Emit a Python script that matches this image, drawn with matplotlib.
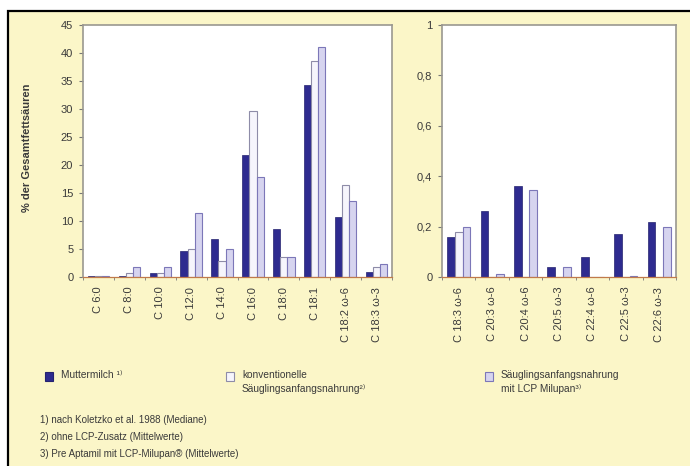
import matplotlib
matplotlib.use("Agg")
import matplotlib.pyplot as plt
from matplotlib.patches import Rectangle
import numpy as np

plt.rcParams['font.family'] = ['Liberation Sans', 'DejaVu Sans']

# ---- data ----
cats_left = ["C 6:0", "C 8:0", "C 10:0", "C 12:0", "C 14:0", "C 16:0",
             "C 18:0", "C 18:1", "C 18:2 ω-6", "C 18:3 ω-3"]
mutter_left = [0.1, 0.1, 0.8, 4.6, 6.7, 21.8, 8.6, 34.3, 10.8, 0.9]
konv_left = [0.2, 0.7, 0.8, 5.0, 2.9, 29.6, 3.5, 38.5, 16.4, 1.7]
lcp_left = [0.2, 1.8, 1.8, 11.4, 5.0, 17.9, 3.5, 41.0, 13.5, 2.3]

cats_right = ["C 18:3 ω-6", "C 20:3 ω-6", "C 20:4 ω-6", "C 20:5 ω-3",
              "C 22:4 ω-6", "C 22:5 ω-3", "C 22:6 ω-3"]
mutter_right = [0.16, 0.26, 0.36, 0.04, 0.08, 0.17, 0.22]
konv_right = [0.18, 0.0, 0.0, 0.0, 0.0, 0.0, 0.0]
lcp_right = [0.20, 0.012, 0.345, 0.04, 0.0, 0.005, 0.20]

yticks_left = [0, 5, 10, 15, 20, 25, 30, 35, 40, 45]
yticks_right = [0, 0.2, 0.4, 0.6, 0.8, 1.0]
yticklabels_right = ["0", "0,2", "0,4", "0,6", "0,8", "1"]

series_names = ["Muttermilch ¹⁾", "konventionelle\nSäuglingsanfangsnahrung²⁾",
                "Säuglingsanfangsnahrung\nmit LCP Milupan³⁾"]
footnotes = ["1) nach Koletzko et al. 1988 (Mediane)",
             "2) ohne LCP-Zusatz (Mittelwerte)",
             "3) Pre Aptamil mit LCP-Milupan® (Mittelwerte)"]

# ---- style ----
BG = "#fbf6c8"
C_MUT = "#2e2b8f"
C_KONV = "#f6f5fc"
E_KONV = "#8e8ca8"
C_LCP = "#d6d4ef"
E_LCP = "#7c77b8"
SPINE = "#9a9890"
BASE = "#c07a4a"
TXT = "#3a3a3a"

W, H = 690, 466
fig = plt.figure(figsize=(W / 100, H / 100), dpi=100)
fig.patch.set_facecolor("white")
fig.patches.append(Rectangle((8 / W, -0.02), 1.0, 1 - 11 / H + 0.02,
                             transform=fig.transFigure, facecolor=BG,
                             edgecolor="black", linewidth=1.6, zorder=-10))


def panel(rect, cats, m, k, l, ylim, yticks, yticklabels):
    ax = fig.add_axes(rect)
    ax.set_facecolor("white")
    x = np.arange(len(cats))
    w = 0.23
    ax.bar(x - w, m, w, color=C_MUT, edgecolor="#25236f", linewidth=0.5)
    ax.bar(x, k, w, color=C_KONV, edgecolor=E_KONV, linewidth=0.8)
    ax.bar(x + w, l, w, color=C_LCP, edgecolor=E_LCP, linewidth=0.8)
    ax.set_xlim(-0.5, len(cats) - 0.5)
    ax.set_ylim(*ylim)
    ax.set_yticks(yticks)
    ax.set_yticklabels(yticklabels)
    ax.set_xticks(x)
    ax.set_xticklabels(cats, rotation=90, fontsize=8, color=TXT)
    ax.tick_params(axis="x", length=0, pad=7)
    ax.set_xticks(np.arange(len(cats) + 1) - 0.5, minor=True)
    ax.tick_params(axis="x", which="minor", length=2.5, color="#777777", direction="out")
    ax.tick_params(axis="y", labelsize=8, length=3, color="#777777", colors=TXT, pad=4)
    for s in ["left", "top", "right"]:
        ax.spines[s].set_color(SPINE)
        ax.spines[s].set_linewidth(1.2)
    ax.spines["bottom"].set_color(BASE)
    ax.spines["bottom"].set_linewidth(0.9)
    return ax


axL = panel([83 / W, 1 - 277 / H, (392 - 83) / W, (277 - 25) / H],
            cats_left, mutter_left, konv_left, lcp_left, (0, 45),
            yticks_left, [str(v) for v in yticks_left])
fig.text(27 / W, 1 - 148 / H, "% der Gesamtfettsäuren", fontsize=8,
         fontweight="bold", color=TXT, rotation=90, ha="center", va="center")

axR = panel([442 / W, 1 - 277 / H, (676 - 442) / W, (277 - 25) / H],
            cats_right, mutter_right, konv_right, lcp_right, (0, 1),
            yticks_right, yticklabels_right)

# ---- legend ----
leg = [(45, C_MUT, "#25236f"), (226, C_KONV, E_KONV), (485, C_LCP, E_LCP)]
for (px, fc, ec), name in zip(leg, series_names):
    fig.patches.append(Rectangle((px / W, 1 - 381 / H), 8 / W, 9 / H,
                                 transform=fig.transFigure, facecolor=fc,
                                 edgecolor=ec, linewidth=0.8))
    fig.text((px + 16) / W, 1 - 370 / H, name, fontsize=7.3, color=TXT,
             va="top", ha="left", linespacing=1.45)

for i, t in enumerate(footnotes):
    fig.text(40 / W, 1 - (420 + 17 * i) / H, t, fontsize=7, color=TXT,
             va="center", ha="left")

fig.savefig("out.png", dpi=100, facecolor=fig.get_facecolor())
